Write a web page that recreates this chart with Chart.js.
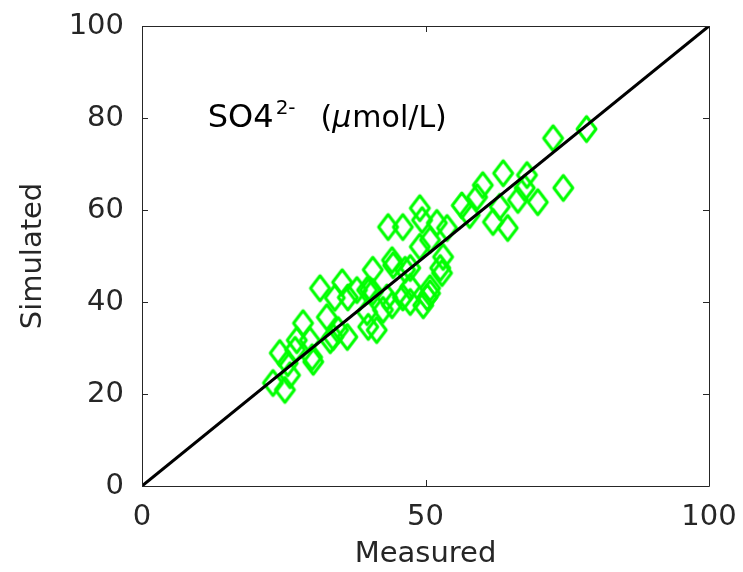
<!DOCTYPE html>
<html>
<head>
<meta charset="utf-8">
<script src="https://cdn.jsdelivr.net/npm/chart.js@4.4.1/dist/chart.umd.min.js"></script>
<style>
  html, body { margin: 0; padding: 0; background: #fff; }
  canvas { display: block; }
</style>
</head>
<body>
<canvas id="scatter" width="743" height="572"></canvas>
<script>
// measured vs simulated SO4 values
const measured = [23.1, 25.2, 24.3, 25.7, 26.1, 27.0, 28.4, 30.2, 29.6, 27.3,
	30.0, 31.4, 32.6, 33.7, 35.3, 36.3, 39.7, 43.2, 34.0, 36.2,
	34.6, 39.9, 41.4, 42.5, 44.1, 40.7, 44.3, 44.1, 46.4, 43.4,
	46.0, 49.0, 52.0, 50.8, 49.0, 52.6, 47.3, 50.3, 49.6, 50.8,
	46.0, 37.9, 40.2, 53.1, 53.8, 56.4, 57.8, 59.1, 60.1, 61.9,
	63.1, 63.7, 64.5, 66.3, 67.9, 67.5, 69.8, 72.5, 74.3, 78.4,
	49.4, 47.3, 52.9, 50.8, 47.3, 40.7, 39.7, 33.2];
const simulated = [22.4, 20.9, 28.9, 26.7, 24.1, 29.6, 35.4, 27.0, 31.7, 31.7,
	28.0, 43.0, 36.7, 32.4, 44.3, 41.0, 42.6, 41.0, 40.9, 32.4,
	33.9, 34.6, 33.9, 38.3, 39.3, 47.0, 48.0, 49.1, 47.0, 56.3,
	56.3, 60.4, 57.2, 53.5, 52.0, 47.4, 43.3, 41.0, 39.3, 41.9,
	41.0, 42.6, 42.6, 49.8, 56.1, 61.0, 58.9, 62.8, 65.4, 57.4,
	60.7, 68.0, 56.1, 62.2, 67.6, 64.8, 61.7, 75.6, 64.8, 77.6,
	57.8, 47.4, 46.3, 43.0, 40.0, 42.2, 37.8, 31.7];
const oneToOne = [0, 100];
const xTicks = [0, 50, 100];
const yTicks = [0, 20, 40, 60, 80, 100];

const FONT = "'DejaVu Sans', 'Liberation Sans', Arial, sans-serif";
const AXIS = '#262626';

function diamondMarker(w, h, lw, color) {
	const c = document.createElement('canvas');
	c.width = w + lw * 2;
	c.height = h + lw * 2;
	const g = c.getContext('2d');
	g.strokeStyle = color;
	g.lineWidth = lw;
	g.lineJoin = 'round';
	const cx = c.width / 2, cy = c.height / 2;
	g.beginPath();
	g.moveTo(cx, cy - h / 2);
	g.lineTo(cx + w / 2, cy);
	g.lineTo(cx, cy + h / 2);
	g.lineTo(cx - w / 2, cy);
	g.closePath();
	g.stroke();
	return c;
}

// box round the plot area plus inward ticks on all four sides
const boxPlugin = {
	id: 'box',
	afterDraw(chart) {
		const {ctx, chartArea: a, scales: {x, y}} = chart;
		const len = 6;
		ctx.save();
		ctx.strokeStyle = AXIS;
		ctx.lineWidth = 1;
		ctx.beginPath();
		ctx.rect(Math.round(a.left) + 0.5, Math.round(a.top) + 0.5,
			Math.round(a.right - a.left), Math.round(a.bottom - a.top));
		xTicks.forEach(v => {
			const px = Math.round(x.getPixelForValue(v)) + 0.5;
			ctx.moveTo(px, a.bottom); ctx.lineTo(px, a.bottom - len);
			ctx.moveTo(px, a.top); ctx.lineTo(px, a.top + len);
		});
		yTicks.forEach(v => {
			const py = Math.round(y.getPixelForValue(v)) + 0.5;
			ctx.moveTo(a.left, py); ctx.lineTo(a.left + len, py);
			ctx.moveTo(a.right, py); ctx.lineTo(a.right - len, py);
		});
		ctx.stroke();
		ctx.restore();
	}
};

// in-plot label: SO4^2- (umol/L)
const labelPlugin = {
	id: 'label',
	afterDatasetsDraw(chart) {
		const {ctx, scales: {x, y}} = chart;
		let px = x.getPixelForValue(11.6);
		const base = y.getPixelForValue(78);
		ctx.save();
		ctx.fillStyle = '#000';
		ctx.textBaseline = 'alphabetic';
		ctx.textAlign = 'left';
		ctx.font = '32px ' + FONT;
		ctx.fillText('SO4', px, base);
		px += ctx.measureText('SO4').width + 2;
		ctx.font = '20px ' + FONT;
		ctx.fillText('2-', px, base - 13);
		px += ctx.measureText('2-').width + 25;
		ctx.font = '30px ' + FONT;
		ctx.fillText('(', px, base);
		px += ctx.measureText('(').width;
		ctx.font = 'italic 30px ' + FONT;
		ctx.fillText('\u03bc', px, base);
		px += ctx.measureText('\u03bc').width + 1;
		ctx.font = '30px ' + FONT;
		ctx.fillText('mol/L)', px, base);
		ctx.restore();
	}
};

new Chart(document.getElementById('scatter'), {
	type: 'scatter',
	data: {
		datasets: [{
			type: 'line',
			label: '1:1',
			data: oneToOne.map(v => ({x: v, y: v})),
			borderColor: '#000',
			borderWidth: 3,
			pointRadius: 0,
			fill: false
		}, {
			label: 'SO4',
			data: measured.map((m, i) => ({x: m, y: simulated[i]})),
			pointStyle: diamondMarker(19, 25, 3, '#00ff00'),
			pointRadius: 12
		}]
	},
	options: {
		responsive: false,
		devicePixelRatio: 1,
		animation: false,
		layout: {padding: {top: 26, right: 34, left: 0, bottom: 0}},
		plugins: {
			legend: {display: false},
			tooltip: {enabled: false}
		},
		scales: {
			x: {
				type: 'linear',
				min: 0,
				max: 100,
				afterBuildTicks: s => { s.ticks = xTicks.map(v => ({value: v})); },
				afterFit: s => { s.height = 86; s.paddingLeft = 0; s.paddingRight = 0; },
				grid: {display: false, drawTicks: false},
				border: {display: false},
				ticks: {color: AXIS, font: {family: FONT, size: 29}, padding: 14, maxRotation: 0},
				title: {display: true, text: 'Measured', color: AXIS,
					font: {family: FONT, size: 29}, padding: {top: 0, bottom: 0}}
			},
			y: {
				type: 'linear',
				min: 0,
				max: 100,
				afterBuildTicks: s => { s.ticks = yTicks.map(v => ({value: v})); },
				afterFit: s => { s.width = 142; s.paddingTop = 0; s.paddingBottom = 0; },
				grid: {display: false, drawTicks: false},
				border: {display: false},
				ticks: {color: AXIS, font: {family: FONT, size: 29}, padding: 18},
				title: {display: true, text: 'Simulated', color: AXIS,
					font: {family: FONT, size: 29}, padding: {top: 16, bottom: 0}}
			}
		}
	},
	plugins: [boxPlugin, labelPlugin]
});
</script>
</body>
</html>
